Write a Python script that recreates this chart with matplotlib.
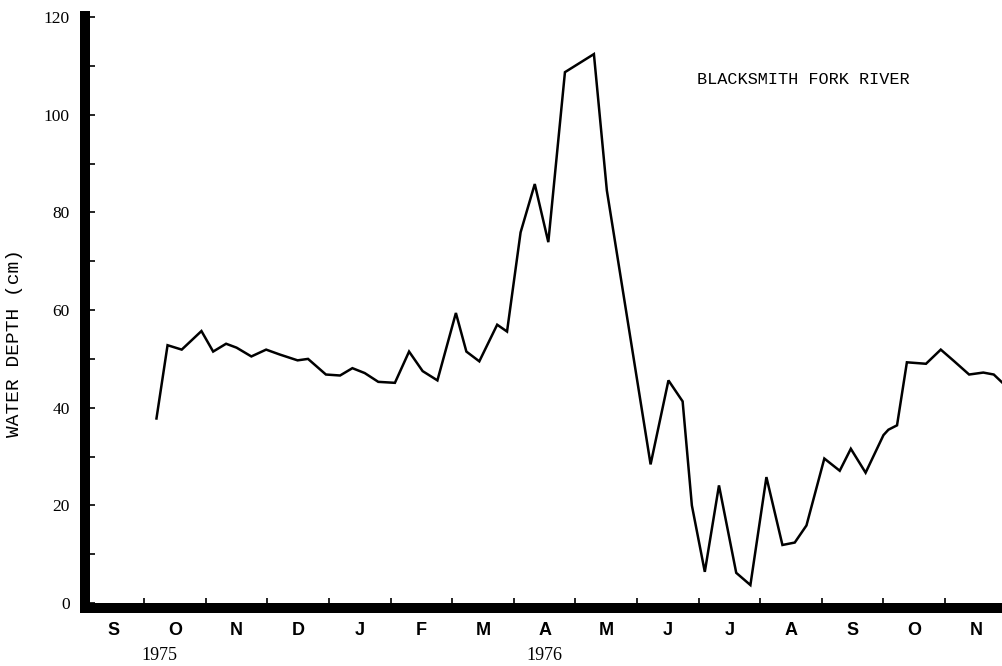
import matplotlib
matplotlib.use("Agg")
import matplotlib.pyplot as plt
import matplotlib.transforms as mtransforms
from matplotlib.ticker import FixedLocator, NullFormatter

# Tiempo en meses contados desde el 1 de septiembre de 1975
meses = [1.20, 1.38, 1.61, 1.93, 2.12, 2.33, 2.50, 2.74, 2.98, 3.20,
         3.49, 3.66, 3.95, 4.18, 4.38, 4.58, 4.80, 5.07, 5.30, 5.52,
         5.76, 6.06, 6.23, 6.44, 6.73, 6.89, 7.11, 7.34, 7.56, 7.83,
         8.30, 8.51, 9.22, 9.51, 9.74, 9.89, 10.10, 10.33, 10.61, 10.84,
         11.10, 11.36, 11.56, 11.75, 12.04, 12.29, 12.47, 12.71, 13.00, 13.08,
         13.22, 13.38, 13.69, 13.93, 14.14, 14.39, 14.62, 14.79, 14.94]

# Profundidad del agua (cm)
profundidad = [37.8, 52.8, 51.9, 55.7, 51.5, 53.1, 52.3, 50.5, 51.9, 50.9,
               49.7, 50.0, 46.8, 46.6, 48.1, 47.1, 45.3, 45.1, 51.5, 47.5,
               45.6, 59.4, 51.5, 49.5, 57.0, 55.6, 75.9, 85.8, 73.9, 108.7,
               112.4, 84.5, 28.4, 45.6, 41.3, 20.0, 6.4, 24.1, 6.2, 3.7,
               25.8, 11.9, 12.4, 15.9, 29.6, 27.1, 31.6, 26.7, 34.4, 35.5,
               36.4, 49.3, 49.0, 51.9, 49.6, 46.8, 47.2, 46.8, 45.0]

etiquetas_meses = ["S", "O", "N", "D", "J", "F", "M", "A", "M", "J", "J", "A", "S", "O", "N"]
anios = [("1975", 1.25), ("1976", 7.50)]
ticks_y = [0, 20, 40, 60, 80, 100, 120]

W, H = 1003, 666
fig = plt.figure(figsize=(W / 100, H / 100), dpi=100)
ax = fig.add_axes([85 / W, 1 - 608 / H, (1006.7 - 85) / W, (608 - 16) / H])

ax.plot(meses, profundidad, color="black", linewidth=1.8, solid_joinstyle="miter")

ax.set_xlim(0.04, 15.0)
ax.set_ylim(-1.0, 120.2)

for lado in ["top", "right"]:
    ax.spines[lado].set_visible(False)
for lado in ["left", "bottom"]:
    ax.spines[lado].set_linewidth(7.2)
    ax.spines[lado].set_capstyle("projecting")

# Eje Y: marcas cada 10, etiquetas cada 20
ax.yaxis.set_major_locator(FixedLocator(ticks_y))
ax.yaxis.set_minor_locator(FixedLocator([10, 30, 50, 70, 90, 110]))
ax.tick_params(axis="y", which="both", direction="in", length=7.5, width=1.2, pad=11)
ax.set_yticklabels([str(v) for v in ticks_y], fontfamily="Liberation Serif", fontsize=12.5)
ax.yaxis.set_minor_formatter(NullFormatter())

# Eje X: marcas al inicio de cada mes, letra del mes centrada
ax.xaxis.set_major_locator(FixedLocator(list(range(1, 15))))
ax.xaxis.set_major_formatter(NullFormatter())
ax.tick_params(axis="x", which="major", direction="in", length=7, width=1.2)
ax.xaxis.set_minor_locator(FixedLocator([i + 0.5 for i in range(len(etiquetas_meses))]))
ax.set_xticklabels(etiquetas_meses, minor=True, fontfamily="Liberation Sans",
                   fontweight="bold", fontsize=13)
ax.tick_params(axis="x", which="minor", length=0, pad=10)

trans = mtransforms.blended_transform_factory(ax.transData, fig.transFigure)
for texto, pos in anios:
    ax.text(pos, 1 - 656 / H, texto, transform=trans, ha="center", va="center",
            fontfamily="Liberation Serif", fontsize=13)

fig.text(15 / W, 1 - 343 / H, "WATER DEPTH (cm)", rotation=90, ha="center", va="center",
         fontfamily="Liberation Mono", fontsize=14)

ax.text(697 / W, 1 - 80 / H, "BLACKSMITH FORK RIVER", transform=fig.transFigure,
        ha="left", va="center", fontfamily="Liberation Mono", fontsize=12.2)

fig.savefig("out.png", dpi=100)
